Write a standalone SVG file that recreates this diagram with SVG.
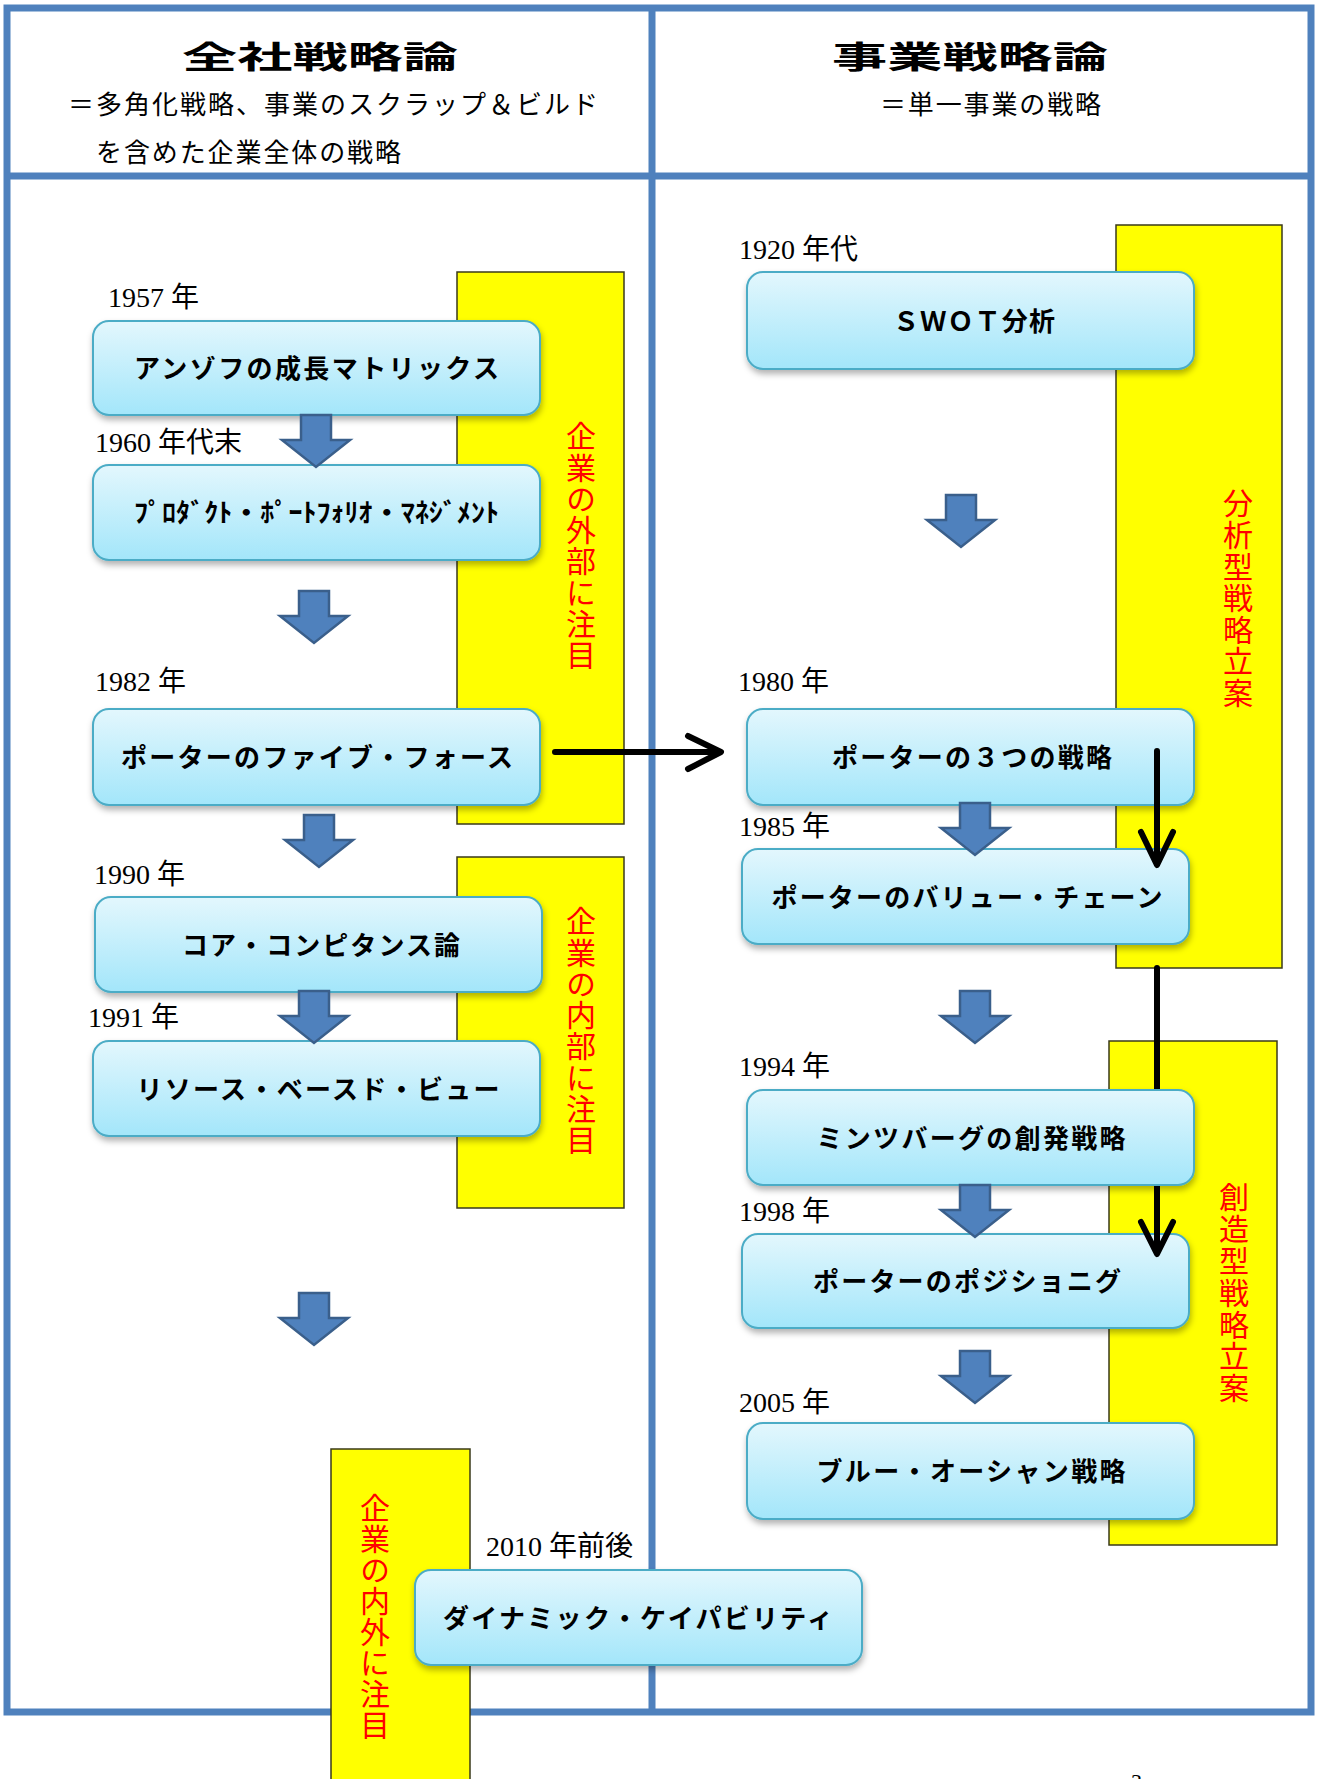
<svg xmlns="http://www.w3.org/2000/svg" width="1321" height="1779" viewBox="0 0 1321 1779">
<defs>
<linearGradient id="boxg" x1="0" y1="0" x2="0" y2="1">
<stop offset="0" stop-color="#E3F7FD"/>
<stop offset="1" stop-color="#A3E6FA"/>
</linearGradient>
<filter id="sh" x="-5%" y="-10%" width="115%" height="135%">
<feDropShadow dx="1" dy="4" stdDeviation="3" flood-color="#000" flood-opacity="0.3"/>
</filter>
<path id="barrow" d="M-15,0 H15 V25 H34 L0,52 L-34,25 H-15 Z"/>
</defs>
<style>
.frame{fill:none;stroke:#4F81BD;stroke-width:7}
.yel{fill:#FFFF00;stroke:#3a3a1a;stroke-width:1.5}
.box{fill:url(#boxg);stroke:#4BACC6;stroke-width:2;filter:url(#sh)}
.bt{font-family:"Noto Sans CJK JP",sans-serif;font-weight:bold;font-size:26px;fill:#000;text-anchor:middle}
.yr{font-family:"Liberation Serif","Noto Sans CJK JP",serif;font-size:28px;fill:#000}
.vt{font-family:"Noto Sans CJK JP",sans-serif;font-size:30px;fill:#FF0000;writing-mode:vertical-rl}
.ba{fill:#4F81BD;stroke:#3A5F8B;stroke-width:2.5}
.ka{fill:none;stroke:#000;stroke-width:6;stroke-linecap:round;stroke-linejoin:round}
.hd{font-family:"Noto Sans CJK JP",sans-serif;fill:#000}
</style>
<rect x="0" y="0" width="1321" height="1779" fill="#fff"/>

<g id="frame">
<rect class="frame" x="7" y="8" width="1304" height="1704"/>
<line class="frame" x1="7" y1="176" x2="1311" y2="176"/>
<line class="frame" x1="652" y1="8" x2="652" y2="1712"/>
</g>

<g id="header-left">
<text class="hd" x="320" y="68" font-size="31" font-weight="bold" text-anchor="middle" textLength="276" lengthAdjust="spacingAndGlyphs">全社戦略論</text>
<text class="hd" x="68" y="114" font-size="26" textLength="530">＝多角化戦略、事業のスクラップ＆ビルド</text>
<text class="hd" x="96" y="162" font-size="26" textLength="305">を含めた企業全体の戦略</text>
</g>
<g id="header-right">
<text class="hd" x="970" y="68" font-size="31" font-weight="bold" text-anchor="middle" textLength="276" lengthAdjust="spacingAndGlyphs">事業戦略論</text>
<text class="hd" x="880" y="114" font-size="26" textLength="221">＝単一事業の戦略</text>
</g>

<g id="band-external">
<rect class="yel" x="457" y="272" width="167" height="552"/>
<text class="vt" x="581" y="421" letter-spacing="1.25">企業の外部に注目</text>
</g>
<g id="band-internal">
<rect class="yel" x="457" y="857" width="167" height="351"/>
<text class="vt" x="581" y="906" letter-spacing="1.25">企業の内部に注目</text>
</g>
<g id="band-both">
<rect class="yel" x="331" y="1449" width="139" height="340"/>
<text class="vt" x="375" y="1493" letter-spacing="0.9">企業の内外に注目</text>
</g>
<g id="band-analytic">
<rect class="yel" x="1116" y="225" width="166" height="743"/>
<text class="vt" x="1238" y="488" font-size="31" letter-spacing="1.6">分析型戦略立案</text>
</g>
<g id="band-creative">
<rect class="yel" x="1109" y="1041" width="168" height="504"/>
<text class="vt" x="1234" y="1182" font-size="31" letter-spacing="1.8">創造型戦略立案</text>
</g>

<g id="positioning"><text class="yr" x="739" y="1221">1998 年</text><rect class="box" x="742" y="1234" width="447" height="94" rx="16"/><text class="bt" x="967" y="1291" textLength="308">ポーターのポジショニグ</text></g>

<g id="connectors-back">
<path class="ka" d="M1157,968 V1252 M1141,1222 L1157,1254 L1173,1222"/>
</g>

<g id="ansoff"><text class="yr" x="108" y="307">1957 年</text><rect class="box" x="93" y="321" width="447" height="94" rx="16"/><text class="bt" x="316.5" y="378" textLength="365">アンゾフの成長マトリックス</text></g>
<g id="ppm"><text class="yr" x="95" y="452">1960 年代末</text><rect class="box" x="93" y="465" width="447" height="95" rx="16"/><text class="bt" x="316.5" y="522" textLength="365" lengthAdjust="spacingAndGlyphs">ﾌﾟﾛﾀﾞｸﾄ・ﾎﾟｰﾄﾌｫﾘｵ・ﾏﾈｼﾞﾒﾝﾄ</text></g>
<g id="five-forces"><text class="yr" x="95" y="691">1982 年</text><rect class="box" x="93" y="709" width="447" height="96" rx="16"/><text class="bt" x="317" y="767" textLength="392">ポーターのファイブ・フォース</text></g>
<g id="core-competence"><text class="yr" x="94" y="884">1990 年</text><rect class="box" x="95" y="897" width="447" height="95" rx="16"/><text class="bt" x="321" y="955" textLength="278">コア・コンピタンス論</text></g>
<g id="rbv"><text class="yr" x="88" y="1027">1991 年</text><rect class="box" x="93" y="1041" width="447" height="95" rx="16"/><text class="bt" x="318" y="1099" textLength="363">リソース・ベースド・ビュー</text></g>

<g id="swot"><text class="yr" x="739" y="259">1920 年代</text><rect class="box" x="747" y="272" width="447" height="97" rx="16"/><text class="bt" x="974" y="331" textLength="162">ＳＷＯＴ分析</text></g>
<g id="three-strategies"><text class="yr" x="738" y="691">1980 年</text><rect class="box" x="747" y="709" width="447" height="96" rx="16"/><text class="bt" x="972" y="767" textLength="280">ポーターの３つの戦略</text></g>
<g id="value-chain"><text class="yr" x="739" y="836">1985 年</text><rect class="box" x="742" y="849" width="447" height="95" rx="16"/><text class="bt" x="967" y="907" textLength="391">ポーターのバリュー・チェーン</text></g>
<g id="emergent"><text class="yr" x="739" y="1076">1994 年</text><rect class="box" x="747" y="1090" width="447" height="95" rx="16"/><text class="bt" x="971" y="1148" textLength="309">ミンツバーグの創発戦略</text></g>
<g id="blue-ocean"><text class="yr" x="739" y="1412">2005 年</text><rect class="box" x="747" y="1423" width="447" height="96" rx="16"/><text class="bt" x="971" y="1481" textLength="309">ブルー・オーシャン戦略</text></g>
<g id="dynamic-capability"><text class="yr" x="486" y="1556">2010 年前後</text><rect class="box" x="415" y="1570" width="447" height="95" rx="16"/><text class="bt" x="638" y="1628" textLength="390">ダイナミック・ケイパビリティ</text></g>

<g id="connectors">
<use href="#barrow" class="ba" x="316" y="415"/>
<use href="#barrow" class="ba" x="314" y="591"/>
<use href="#barrow" class="ba" x="319" y="815"/>
<use href="#barrow" class="ba" x="314" y="991"/>
<use href="#barrow" class="ba" x="314" y="1293"/>
<use href="#barrow" class="ba" x="961" y="495"/>
<use href="#barrow" class="ba" x="975" y="803"/>
<use href="#barrow" class="ba" x="975" y="991"/>
<use href="#barrow" class="ba" x="975" y="1185"/>
<use href="#barrow" class="ba" x="975" y="1351"/>
<path class="ka" d="M1157,751 V863 M1141,832 L1157,865 L1173,832"/>
<path class="ka" d="M555,752 H719 M688,736 L721,752 L688,769"/>
</g>

<text x="1131" y="1789" font-family="Liberation Serif, serif" font-size="22" fill="#000">3</text>
</svg>
